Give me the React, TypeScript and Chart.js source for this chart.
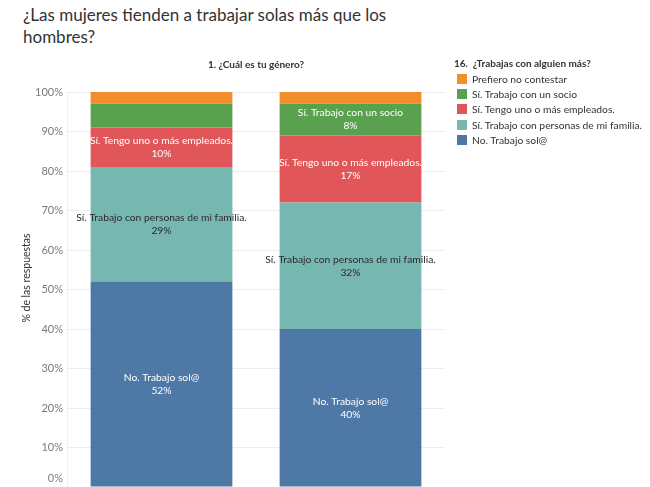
import { useEffect, useRef } from "react"
import { Chart, registerables } from "chart.js"

Chart.register(...registerables)

const categories = ["Mujer", "Hombre"]
const seriesNames = [
  "No. Trabajo sol@",
  "Sí. Trabajo con personas de mi familia.",
  "Sí. Tengo uno o más empleados.",
  "Sí. Trabajo con un socio",
  "Prefiero no contestar",
]
const soloValues = [52, 40]
const familiaValues = [29, 32]
const empleadosValues = [10, 17]
const socioValues = [6, 8]
const prefieroValues = [3, 3]
const yTicks = [0, 10, 20, 30, 40, 50, 60, 70, 80, 90, 100]

const seriesColors = ["#4E79A7", "#76B7B2", "#E15759", "#59A14F", "#F28E2B"]
const labelColors = ["#ffffff", "#2b2b2b", "#ffffff", "#ffffff", "#ffffff"]

const FONT = "Lato, 'Open Sans', sans-serif"

const drawExtras = {
  id: "drawExtras",
  afterDatasetsDraw(chart: Chart) {
    const { ctx, chartArea } = chart
    const y = chart.scales.y
    ctx.save()

    // y tick labels
    ctx.font = `11px ${FONT}`
    ctx.fillStyle = "#7a7a7a"
    ctx.textAlign = "right"
    ctx.textBaseline = "middle"
    yTicks.forEach((t) => {
      let py = y.getPixelForValue(t)
      if (py > chartArea.bottom - 9) py = chartArea.bottom - 9
      ctx.fillText(`${t}%`, chartArea.left - 4, py)
    })

    // axis title
    ctx.save()
    ctx.translate(27, 278)
    ctx.rotate(-Math.PI / 2)
    ctx.textAlign = "center"
    ctx.fillStyle = "#333"
    ctx.font = `10.5px ${FONT}`
    ctx.fillText("% de las respuestas", 0, 0)
    ctx.restore()

    // header
    ctx.font = `bold 10px ${FONT}`
    ctx.fillStyle = "#333"
    ctx.textAlign = "center"
    ctx.fillText("1. ¿Cuál es tu género?", (chartArea.left + chartArea.right) / 2, 65)

    // data labels
    ctx.font = `10.3px ${FONT}`
    chart.data.datasets.forEach((ds, i) => {
      const meta = chart.getDatasetMeta(i)
      meta.data.forEach((el: any, j) => {
        const v = ds.data[j] as number
        if (v < 7) return
        const cy = (el.y + el.base) / 2
        ctx.fillStyle = labelColors[i]
        ctx.fillText(String(ds.label), el.x, cy - 6.5)
        ctx.fillText(`${v}%`, el.x, cy + 6.5)
      })
    })
    ctx.restore()
  },
}

function Legend() {
  const order = [4, 3, 2, 1, 0]
  return (
    <div
      style={{
        position: "absolute",
        left: 454,
        top: 57,
        fontFamily: FONT,
        fontSize: 10.3,
        color: "#333",
        whiteSpace: "nowrap",
      }}
    >
      <div style={{ fontWeight: "bold", fontSize: 10, height: 14 }}>16.&nbsp; ¿Trabajas con alguien más?</div>
      {order.map((i) => (
        <div key={i} style={{ display: "flex", alignItems: "center", height: 15.4 }}>
          <span
            style={{
              display: "inline-block",
              width: 10,
              height: 10,
              background: seriesColors[i],
              marginLeft: 3,
              marginRight: 5,
            }}
          />
          <span>{seriesNames[i]}</span>
        </div>
      ))}
    </div>
  )
}

export default function App() {
  const chartRef = useRef<HTMLCanvasElement>(null)
  const chartInstance = useRef<Chart | null>(null)

  useEffect(() => {
    if (!chartRef.current) return
    if (chartInstance.current) chartInstance.current.destroy()
    const ctx = chartRef.current.getContext("2d")
    if (!ctx) return

    const values = [soloValues, familiaValues, empleadosValues, socioValues, prefieroValues]

    chartInstance.current = new Chart(ctx, {
      type: "bar",
      data: {
        labels: categories,
        datasets: values.map((d, i) => ({
          label: seriesNames[i],
          data: d,
          backgroundColor: seriesColors[i],
          barPercentage: 0.75,
          categoryPercentage: 1,
        })),
      },
      options: {
        responsive: false,
        animation: false,
        layout: { padding: { left: 67, right: 205, top: 92, bottom: 0 } },
        scales: {
          x: { stacked: true, display: false },
          y: {
            stacked: true,
            min: 0,
            max: 100,
            ticks: { display: false, stepSize: 10 },
            grid: { color: "#eeeeee", drawTicks: false },
            border: { display: true, color: "#f0f0f0" },
            afterFit: (s: any) => {
              s.width = 0
            },
          },
        },
        plugins: {
          legend: { display: false },
          tooltip: { enabled: false },
        },
      },
      plugins: [drawExtras],
    })

    return () => {
      if (chartInstance.current) {
        chartInstance.current.destroy()
        chartInstance.current = null
      }
    }
  }, [])

  return (
    <div
      style={{
        position: "absolute",
        left: 0,
        top: 0,
        width: 650,
        height: 487,
        background: "#fff",
        overflow: "hidden",
      }}
    >
      <div
        style={{
          position: "absolute",
          left: 23,
          top: 4,
          width: 400,
          fontFamily: FONT,
          fontSize: 17,
          lineHeight: "22px",
          color: "#333",
        }}
      >
        ¿Las mujeres tienden a trabajar solas más que los hombres?
      </div>
      <canvas ref={chartRef} width={650} height={487} style={{ position: "absolute", left: 0, top: 0 }} />
      <Legend />
    </div>
  )
}
